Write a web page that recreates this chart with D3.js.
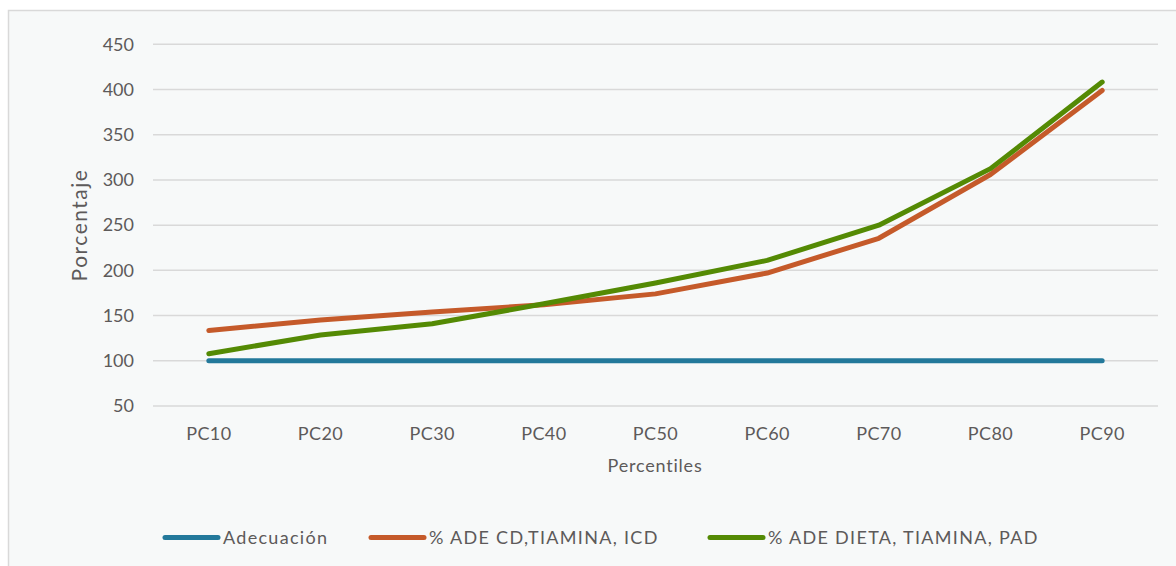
<!DOCTYPE html>
<html>
<head>
<meta charset="utf-8">
<script src="https://cdn.jsdelivr.net/npm/d3@7"></script>
<style>
  html, body { margin: 0; padding: 0; background: #ffffff; }
  svg { display: block; font-family: "Lato", "Open Sans", sans-serif; }
</style>
</head>
<body>
<svg id="chart" width="1176" height="566"></svg>
<script>
// Percentile categories on the x axis
const categories = ["PC10", "PC20", "PC30", "PC40", "PC50", "PC60", "PC70", "PC80", "PC90"];

// Series values (percent)
const adecuacion = [100, 100, 100, 100, 100, 100, 100, 100, 100];
const adeCdTiaminaIcd = [133.5, 145, 154, 162, 174, 197, 235.5, 306, 399];
const adeDietaTiaminaPad = [107.8, 128.6, 141, 163, 186, 211, 250, 312.5, 408.2];

// Y axis tick labels
const yTicks = [50, 100, 150, 200, 250, 300, 350, 400, 450];

const seriesNames = ["Adecuación", "% ADE CD,TIAMINA, ICD", "% ADE DIETA, TIAMINA, PAD"];
const seriesColors = ["#23799b", "#c55a2a", "#548a04"];

const series = [adecuacion, adeCdTiaminaIcd, adeDietaTiaminaPad].map((vals, i) => ({
  name: seriesNames[i],
  color: seriesColors[i],
  values: vals.map((v, j) => ({ cat: categories[j], v }))
}));

const textColor = "#5d5a5a";
const svg = d3.select("#chart");

// Chart frame
svg.append("rect")
  .attr("x", 8.5).attr("y", 10.5)
  .attr("width", 1180).attr("height", 570)
  .attr("fill", "#f7f9f9")
  .attr("stroke", "#d9d9d9")
  .attr("stroke-width", 1.5);

const plot = { left: 153, right: 1158, top: 44.3, bottom: 406 };

const x = d3.scaleBand()
  .domain(categories)
  .range([plot.left, plot.right]);

const y = d3.scaleLinear()
  .domain([50, 450])
  .range([plot.bottom, plot.top]);

// Horizontal gridlines
svg.append("g")
  .selectAll("line")
  .data(yTicks)
  .join("line")
  .attr("x1", plot.left).attr("x2", plot.right)
  .attr("y1", d => y(d)).attr("y2", d => y(d))
  .attr("stroke", "#d9d9d9")
  .attr("stroke-width", 1.5);

// Y axis labels
const yAxis = d3.axisLeft(y).tickValues(yTicks).tickSize(0).tickPadding(0);
svg.append("g")
  .attr("transform", `translate(134,0)`)
  .call(yAxis)
  .call(g => g.select(".domain").remove())
  .call(g => g.selectAll("text")
    .attr("fill", textColor)
    .attr("font-size", 18)
    .attr("font-family", "Lato, sans-serif"));

// X axis labels
const xAxis = d3.axisBottom(x).tickSize(0).tickPadding(0);
svg.append("g")
  .attr("transform", `translate(0,${plot.bottom + 21})`)
  .call(xAxis)
  .call(g => g.select(".domain").remove())
  .call(g => g.selectAll("text")
    .attr("fill", textColor)
    .attr("font-size", 18)
    .attr("letter-spacing", 0.4)
    .attr("font-family", "Lato, sans-serif"));

// Axis titles
svg.append("text")
  .attr("transform", "translate(87,225) rotate(-90)")
  .attr("text-anchor", "middle")
  .attr("fill", textColor)
  .attr("font-size", 21)
  .attr("letter-spacing", 1.5)
  .text("Porcentaje");

svg.append("text")
  .attr("x", 655).attr("y", 472)
  .attr("text-anchor", "middle")
  .attr("fill", textColor)
  .attr("font-size", 18)
  .attr("letter-spacing", 0.8)
  .text("Percentiles");

// Lines
const line = d3.line()
  .x(d => x(d.cat) + x.bandwidth() / 2)
  .y(d => y(d.v));

svg.append("g")
  .selectAll("path")
  .data(series)
  .join("path")
  .attr("d", d => line(d.values))
  .attr("fill", "none")
  .attr("stroke", d => d.color)
  .attr("stroke-width", 5)
  .attr("stroke-linecap", "round")
  .attr("stroke-linejoin", "round");

// Legend
const legendX = [165, 371, 710];
const legend = svg.append("g")
  .selectAll("g")
  .data(series)
  .join("g")
  .attr("transform", (d, i) => `translate(${legendX[i]},537.5)`);

legend.append("line")
  .attr("x1", 0).attr("x2", 53)
  .attr("stroke", d => d.color)
  .attr("stroke-width", 5)
  .attr("stroke-linecap", "round");

legend.append("text")
  .attr("x", 58)
  .attr("dy", "0.36em")
  .attr("fill", textColor)
  .attr("font-size", 18)
  .attr("letter-spacing", 1.3)
  .text(d => d.name);
</script>
</body>
</html>
